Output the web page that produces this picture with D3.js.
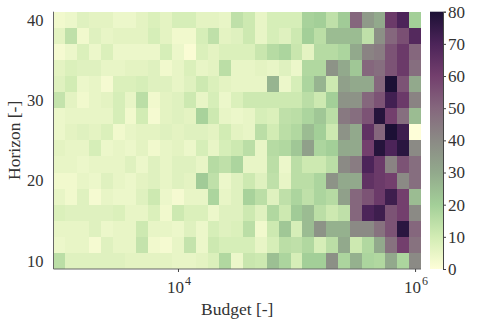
<!DOCTYPE html>
<html>
<head>
<meta charset="utf-8">
<script src="https://cdn.jsdelivr.net/npm/d3@7"></script>
<style>
  body { margin: 0; background: #fff; }
  svg { font-family: "Liberation Serif", "DejaVu Serif", serif; }
</style>
</head>
<body>
<svg id="chart" width="480" height="320"></svg>
<script>
// budget grid: log10 exponents of the column centres
const budgetExp = [3.0, 3.1, 3.2, 3.3, 3.4, 3.5, 3.6, 3.7, 3.8, 3.9,
  4.0, 4.1, 4.2, 4.3, 4.4, 4.5, 4.6, 4.7, 4.8, 4.9,
  5.0, 5.1, 5.2, 5.3, 5.4, 5.5, 5.6, 5.7, 5.8, 5.9, 6.0];
// horizons, top row first
const horizons = [40, 38, 36, 34, 32, 30, 28, 26, 24, 22, 20, 18, 16, 14, 12, 10];
// cell values, one row per horizon (same order as horizons)
const cellValues = [
  [3,4,7,6,6,4,4,6,8,6,9,9,6,6,5,14, 11,5,9,9,9,19,20,14,21,50,35,30,62,70,20],
  [6,14,3,7,5,6,6,6,9,6,3,3,9,14,6,7, 11,5,9,7,11,20,15,25,25,25,14,38,50,56,68],
  [2,4,8,4,8,4,4,4,4,9,4,1,8,6,8,8, 8,12,16,18,12,6,16,16,18,30,42,44,55,62,50],
  [6,8,7,7,5,5,6,6,7,3,5,8,5,6,15,5, 5,6,5,7,4,17,17,37,30,22,50,48,55,62,48],
  [7,10,4,5,2,8,8,9,7,7,5,7,11,8,6,5, 5,5,27,4,9,18,27,11,33,30,30,50,80,55,30],
  [13,6,3,5,6,9,5,15,3,6,7,11,5,9,4,8, 11,11,11,11,11,15,11,20,37,37,50,55,72,62,42],
  [4,5,5,5,5,9,3,10,2,6,7,6,19,11,5,4, 5,9,8,14,15,18,22,15,45,48,55,78,60,48,25],
  [4,6,7,6,8,3,5,6,6,7,6,7,7,6,10,6, 5,15,10,15,17,25,20,11,37,30,65,50,80,73,0],
  [6,5,5,9,4,5,4,6,3,5,6,4,9,5,9,11, 15,5,16,17,22,33,18,20,30,30,60,78,70,77,40],
  [5,5,4,5,5,5,7,4,7,5,7,7,5,16,14,18, 5,5,15,4,15,11,11,15,40,44,70,62,42,55,48],
  [3,3,5,4,7,5,4,6,7,5,7,6,21,14,4,7, 11,7,14,5,15,15,18,37,30,30,65,62,60,40,48],
  [5,3,7,2,5,4,4,7,11,4,2,5,5,18,5,7, 19,15,7,14,18,14,18,16,33,50,55,62,73,60,25],
  [8,7,7,7,7,8,5,5,8,3,11,8,8,4,7,7, 11,7,17,11,21,25,15,11,14,50,70,73,55,60,40],
  [5,5,5,7,4,5,5,11,5,5,4,7,4,9,7,8, 15,3,11,22,9,25,37,28,28,40,40,47,55,77,50],
  [4,5,5,2,7,5,5,13,3,2,5,13,4,11,9,9, 9,5,9,15,14,17,9,15,30,11,17,30,47,60,47],
  [15,7,7,7,7,7,6,6,6,6,5,5,6,8,17,4, 12,11,24,18,9,20,20,38,18,28,18,17,30,18,40]
];
const yTicks = [10, 20, 30, 40];
const xTickExp = [4, 6];
const cbarTicks = [0, 10, 20, 30, 40, 50, 60, 70, 80];
// reversed "tokyo"-like colormap
const cmapStops = [0, 10, 20, 30, 40, 50, 60, 70, 80];
const cmapColors = ['#fefed8', '#d2ecb4', '#a3cf98', '#92a98c', '#8b8a85',
  '#85677d', '#733f6d', '#4c2459', '#1c1035'];

const svg = d3.select('#chart');
const plotLeft = 53.5, plotRight = 421, plotTop = 11.7, plotBottom = 269;
const textColor = '#333';

const x = d3.scaleLog()
  .domain([Math.pow(10, 2.95), Math.pow(10, 6.05)])
  .range([plotLeft, plotRight]);
const y = d3.scaleLinear().domain([9, 41]).range([plotBottom, plotTop]);
const color = d3.scaleLinear().domain(cmapStops).range(cmapColors)
  .interpolate(d3.interpolateRgb).clamp(true);

// flatten grid into cells
let cells = [];
horizons.forEach((h, r) => {
  budgetExp.forEach((e, c) => {
    cells.push({h: h, e: e, v: cellValues[r][c]});
  });
});

svg.append('g').selectAll('rect')
  .data(cells)
  .enter()
  .append('rect')
  .attr('x', d => x(Math.pow(10, d.e - 0.05)))
  .attr('y', d => y(d.h + 1))
  .attr('width', d => x(Math.pow(10, d.e + 0.05)) - x(Math.pow(10, d.e - 0.05)) + 0.4)
  .attr('height', d => y(d.h - 1) - y(d.h + 1) + 0.4)
  .attr('fill', d => color(d.v))
  .attr('shape-rendering', 'crispEdges');

// spines: left and bottom only
svg.append('line').attr('x1', plotLeft).attr('x2', plotLeft).attr('y1', plotTop).attr('y2', plotBottom)
  .attr('stroke', '#666').attr('stroke-width', 1);
svg.append('line').attr('x1', plotLeft).attr('x2', plotRight).attr('y1', plotBottom).attr('y2', plotBottom)
  .attr('stroke', '#666').attr('stroke-width', 1);

// x axis ticks + 10^n labels
const xAxis = svg.append('g').attr('transform', `translate(0,${plotBottom})`)
  .call(d3.axisBottom(x).tickValues(xTickExp.map(e => Math.pow(10, e))).tickSize(3).tickFormat(''));
xAxis.select('.domain').remove();
xAxis.selectAll('line').attr('stroke', '#444');
xTickExp.forEach(e => {
  const t = svg.append('text')
    .attr('x', x(Math.pow(10, e)) + 1)
    .attr('y', 293)
    .attr('text-anchor', 'middle')
    .attr('font-size', 17)
    .attr('fill', textColor)
    .text('10');
  t.append('tspan').attr('dy', -8).attr('dx', 1).attr('font-size', 12).text(e);
});

// y axis
const yAxis = svg.append('g').attr('transform', `translate(${plotLeft},0)`)
  .call(d3.axisLeft(y).tickValues(yTicks).tickSize(0).tickPadding(10));
yAxis.select('.domain').remove();
yAxis.selectAll('text')
  .attr('font-size', 16.5)
  .attr('font-family', '"Liberation Serif", serif')
  .attr('fill', textColor);

// axis labels
svg.append('text')
  .attr('x', (plotLeft + plotRight) / 2)
  .attr('y', 315)
  .attr('text-anchor', 'middle')
  .attr('font-size', 17.5)
  .attr('fill', textColor)
  .text('Budget [-]');
svg.append('text')
  .attr('transform', `translate(19.5,${(plotTop + plotBottom) / 2}) rotate(-90)`)
  .attr('text-anchor', 'middle')
  .attr('font-size', 17.5)
  .attr('fill', textColor)
  .text('Horizon [-]');

// colorbar
const cbX = 430, cbW = 13;
const cbScale = d3.scaleLinear().domain([0, 80]).range([plotBottom, plotTop]);
const grad = svg.append('defs').append('linearGradient')
  .attr('id', 'cbgrad').attr('x1', 0).attr('y1', 1).attr('x2', 0).attr('y2', 0);
grad.selectAll('stop')
  .data(cmapStops)
  .enter()
  .append('stop')
  .attr('offset', d => d / 80)
  .attr('stop-color', d => color(d));
svg.append('rect')
  .attr('x', cbX).attr('y', plotTop)
  .attr('width', cbW).attr('height', plotBottom - plotTop)
  .attr('fill', 'url(#cbgrad)');
const cbAxis = svg.append('g').attr('transform', `translate(${cbX + cbW},0)`)
  .call(d3.axisRight(cbScale).tickValues(cbarTicks).tickSize(3).tickPadding(2));
cbAxis.select('.domain').attr('stroke', '#444');
cbAxis.selectAll('line').attr('stroke', '#444');
cbAxis.selectAll('text')
  .attr('font-size', 17)
  .attr('font-family', '"Liberation Serif", serif')
  .attr('fill', textColor);
</script>
</body>
</html>
